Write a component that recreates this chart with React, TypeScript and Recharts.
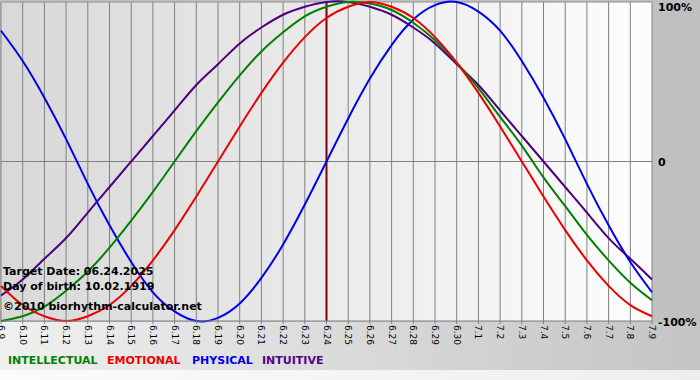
import React from "react";
import { LineChart, Line, XAxis, YAxis, CartesianGrid, ReferenceLine } from "recharts";

const font = "'DejaVu Sans', Verdana, sans-serif";

// days shown on the x axis (month.day)
const days = [
  "6.9", "6.10", "6.11", "6.12", "6.13", "6.14", "6.15", "6.16", "6.17", "6.18",
  "6.19", "6.20", "6.21", "6.22", "6.23", "6.24", "6.25", "6.26", "6.27", "6.28",
  "6.29", "6.30", "7.1", "7.2", "7.3", "7.4", "7.5", "7.6", "7.7", "7.8", "7.9",
];

// cycle values in percent, one per day
const intellectual = [
  -100, -97, -91, -81, -69, -54, -37, -19, 0, 19, 37, 54, 69, 81, 91, 97,
  100, 99, 95, 87, 76, 62, 46, 28, 10, -10, -28, -46, -62, -76, -87,
];
const emotional = [
  -78, -90, -97, -100, -97, -90, -78, -62, -43, -22, 0, 22, 43, 62, 78, 90,
  97, 100, 97, 90, 78, 62, 43, 22, 0, -22, -43, -62, -78, -90, -97,
];
const physical = [
  82, 63, 40, 14, -14, -40, -63, -82, -94, -100, -98, -89, -73, -52, -27, 0,
  27, 52, 73, 89, 98, 100, 94, 82, 63, 40, 14, -14, -40, -63, -82,
];
const intuitive = [
  -84, -74, -61, -48, -32, -16, 0, 16, 32, 48, 61, 74, 84, 92, 97, 100,
  100, 97, 92, 84, 74, 61, 48, 32, 16, 0, -16, -32, -48, -61, -74,
];

const yTicks = [-100, 0, 100];
const targetDay = "6.24";

const legend = [
  { name: "INTELLECTUAL", color: "#008000", x: 8 },
  { name: "EMOTIONAL", color: "#ee0000", x: 107 },
  { name: "PHYSICAL", color: "#0000ee", x: 192 },
  { name: "INTUITIVE", color: "#550088", x: 262 },
];

const data = days.map((d, i) => ({
  day: d,
  intellectual: intellectual[i],
  emotional: emotional[i],
  physical: physical[i],
  intuitive: intuitive[i],
}));

function DayTick({ x, y, payload }: any) {
  return (
    <text
      transform={`translate(${x},${y}) rotate(90)`}
      textAnchor="start"
      dominantBaseline="central"
      fontSize={9}
      fontFamily={font}
      fill="#000"
    >
      {payload.value}
    </text>
  );
}

function PercentTick({ x, y, payload }: any) {
  const v = payload.value;
  const label = v === 0 ? "0" : `${v}%`;
  const dy = v === 100 ? -2 : 1;
  return (
    <text
      x={x - 2}
      y={y + dy}
      textAnchor="start"
      dominantBaseline="central"
      fontSize={11}
      fontWeight="bold"
      fontFamily={font}
      fill="#000"
    >
      {label}
    </text>
  );
}

const infoStyle: React.CSSProperties = {
  position: "absolute",
  left: 3,
  fontFamily: font,
  fontSize: 11,
  fontWeight: "bold",
  color: "#000",
  lineHeight: "14px",
  whiteSpace: "nowrap",
};

export default function App() {
  return (
    <div
      style={{
        position: "absolute",
        left: 0,
        top: 0,
        width: 700,
        height: 380,
        overflow: "hidden",
        background: "#c0c0c0",
      }}
    >
      <div
        style={{
          position: "absolute",
          left: 0,
          top: 322,
          width: 700,
          height: 48,
          background: "linear-gradient(to right, #f0f0f0, #c4c4c4)",
        }}
      />
      <div
        style={{
          position: "absolute",
          left: 0,
          top: 370,
          width: 700,
          height: 10,
          background: "linear-gradient(to right, #fbfbfb, #eeeeee)",
        }}
      />
      <div style={{ position: "absolute", left: 0, top: 0 }}>
        <LineChart
          width={700}
          height={380}
          data={data}
          margin={{ top: 2, right: 0, left: 1, bottom: 0 }}
        >
          <defs>
            <linearGradient id="plotBg" x1="0" y1="0" x2="1" y2="0">
              <stop offset="0%" stopColor="#d8d8d8" />
              <stop offset="100%" stopColor="#fdfdfd" />
            </linearGradient>
          </defs>
          <CartesianGrid
            horizontal={false}
            vertical={true}
            stroke="#808080"
            fill="url(#plotBg)"
            fillOpacity={1}
          />
          <XAxis
            dataKey="day"
            interval={0}
            height={59}
            tick={<DayTick />}
            tickSize={3}
            tickMargin={1}
            axisLine={{ stroke: "#808080" }}
            tickLine={{ stroke: "#808080" }}
          />
          <YAxis
            orientation="right"
            width={48}
            domain={[-100, 100]}
            ticks={yTicks}
            tick={<PercentTick />}
            axisLine={false}
            tickLine={false}
          />
          <ReferenceLine y={0} stroke="#808080" />
          <ReferenceLine y={100} stroke="#909090" />
          <ReferenceLine x={targetDay} stroke="#800000" strokeWidth={2} />
          <Line
            type="natural"
            dataKey="intuitive"
            stroke="#4b0082"
            strokeWidth={2}
            dot={false}
            isAnimationActive={false}
          />
          <Line
            type="natural"
            dataKey="physical"
            stroke="#0000ee"
            strokeWidth={2}
            dot={false}
            isAnimationActive={false}
          />
          <Line
            type="natural"
            dataKey="intellectual"
            stroke="#008000"
            strokeWidth={2}
            dot={false}
            isAnimationActive={false}
          />
          <Line
            type="natural"
            dataKey="emotional"
            stroke="#ee0000"
            strokeWidth={2}
            dot={false}
            isAnimationActive={false}
          />
        </LineChart>
      </div>
      <div style={{ ...infoStyle, top: 265 }}>Target Date: 06.24.2025</div>
      <div style={{ ...infoStyle, top: 280 }}>Day of birth: 10.02.1919</div>
      <div style={{ ...infoStyle, top: 300 }}>©2010 biorhythm-calculator.net</div>
      {legend.map((l) => (
        <div
          key={l.name}
          style={{
            position: "absolute",
            left: l.x,
            top: 354,
            fontFamily: font,
            fontSize: 11,
            fontWeight: "bold",
            color: l.color,
            lineHeight: "14px",
            whiteSpace: "nowrap",
          }}
        >
          {l.name}
        </div>
      ))}
    </div>
  );
}
